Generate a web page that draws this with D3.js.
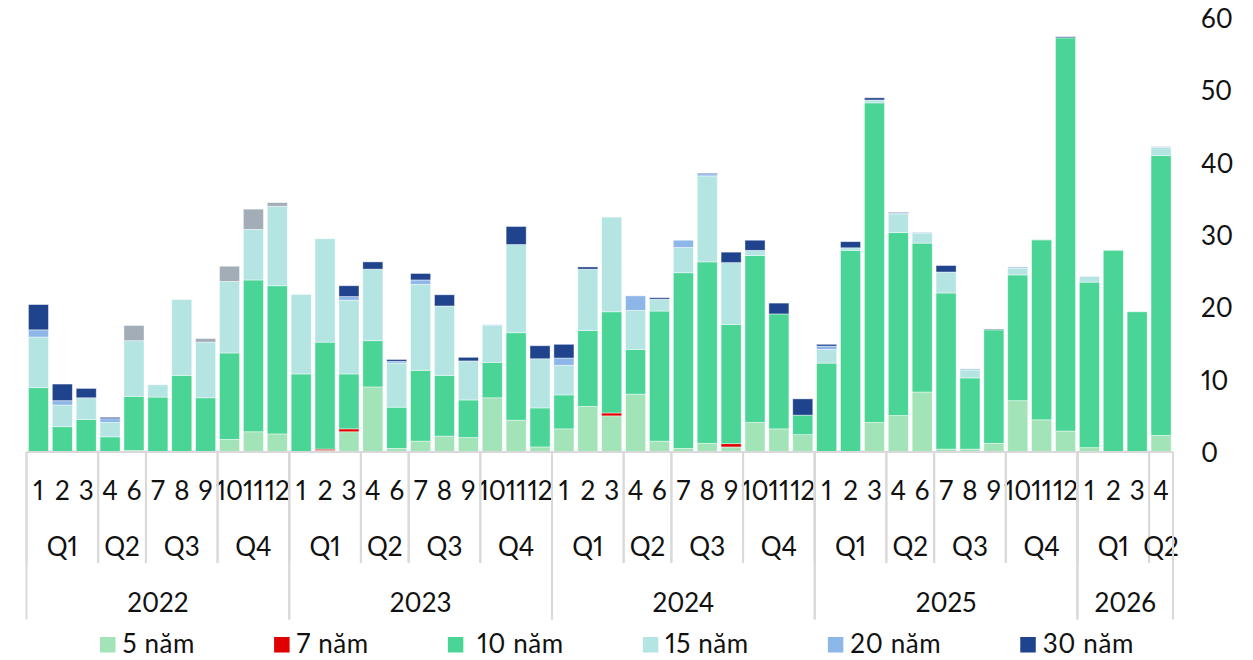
<!DOCTYPE html>
<html>
<head>
<meta charset="utf-8">
<script src="https://cdn.jsdelivr.net/npm/d3@7"></script>
<style>
  html, body { margin: 0; padding: 0; background: #fff; }
  svg text { font-family: Lato, "Open Sans", sans-serif; fill: #111; font-variant-numeric: proportional-nums; }
</style>
</head>
<body>
<svg id="chart" width="1253" height="660"></svg>
<script>
// ---- data ----
const monthLabels = ["1","2","3","4","6","7","8","9","10","11","12",
                     "1","2","3","4","6","7","8","9","10","11","12",
                     "1","2","3","4","6","7","8","9","10","11","12",
                     "1","2","3","4","6","7","8","9","10","11","12",
                     "1","2","3","4"];
const quarterLabels = ["Q1","Q1","Q1","Q2","Q2","Q3","Q3","Q3","Q4","Q4","Q4",
                       "Q1","Q1","Q1","Q2","Q2","Q3","Q3","Q3","Q4","Q4","Q4",
                       "Q1","Q1","Q1","Q2","Q2","Q3","Q3","Q3","Q4","Q4","Q4",
                       "Q1","Q1","Q1","Q2","Q2","Q3","Q3","Q3","Q4","Q4","Q4",
                       "Q1","Q1","Q1","Q2"];
const yearLabels = ["2022","2022","2022","2022","2022","2022","2022","2022","2022","2022","2022",
                    "2023","2023","2023","2023","2023","2023","2023","2023","2023","2023","2023",
                    "2024","2024","2024","2024","2024","2024","2024","2024","2024","2024","2024",
                    "2025","2025","2025","2025","2025","2025","2025","2025","2025","2025","2025",
                    "2026","2026","2026","2026"];

const y5  = [0,0,0,0,0.2,0,0,0,1.75,2.8,2.5,
             0,0.2,2.8,9.0,0.5,1.5,2.2,2.0,7.5,4.4,0.7,
             3.2,6.3,5.0,8.0,1.5,0.5,1.2,0.7,4.1,3.2,2.4,
             0,0,4.1,5.05,8.3,0.4,0.4,1.2,7.1,4.45,2.9,
             0.6,0,0,2.3];
const y7  = [0,0,0,0,0,0,0,0,0,0,0,
             0,0.2,0.4,0,0,0,0,0,0,0,0,
             0,0,0.4,0,0,0,0,0.45,0,0,0,
             0,0,0,0,0,0,0,0,0,0,0,
             0,0,0,0];
const y10 = [8.9,3.5,4.5,2.1,7.5,7.6,10.6,7.5,11.95,21.0,20.5,
             10.8,14.8,7.6,6.4,5.7,9.8,8.4,5.2,4.9,12.1,5.4,
             4.7,10.5,14.0,6.2,18.0,24.3,25.1,16.5,23.1,15.9,2.7,
             12.3,27.9,44.2,25.3,20.6,21.6,9.85,15.7,17.4,24.9,54.4,
             22.9,27.9,19.4,38.7];
const y15 = [7.0,3.0,3.0,2.0,7.7,1.7,10.5,7.7,9.9,7.0,11.0,
             11.0,14.3,10.2,9.9,6.1,11.9,9.6,5.4,5.1,12.2,6.8,
             4.1,8.5,13.1,5.4,1.65,3.5,11.9,8.55,0.7,0,0,
             1.9,0.35,0.4,2.6,1.4,2.9,1.1,0,0.95,0.1,0,
             0.8,0,0,1.15];
const y20 = [1.0,0.6,0,0.5,0,0,0,0,0,0,0,
             0,0,0.5,0,0.25,0.6,0,0,0.1,0,0,
             1.0,0,0,2.0,0,1.0,0.3,0,0,0,0,
             0.45,0,0,0.1,0.1,0,0.15,0,0.15,0,0,
             0,0,0,0.1];
const y30 = [3.5,2.3,1.3,0.2,0,0,0,0,0,0,0,
             0,0,1.5,1.0,0.25,0.9,1.55,0.5,0,2.5,1.8,
             1.9,0.3,0,0,0.2,0,0.1,1.45,1.4,1.5,2.25,
             0.25,0.85,0.3,0.1,0,0.9,0,0.1,0,0,0.15,
             0,0,0,0];
const yOther = [0,0,0,0,2.1,0,0,0.5,2.1,2.8,0.5,
                0,0,0,0,0,0,0,0,0,0,0,
                0,0,0,0,0,0,0,0,0,0,0,
                0,0,0,0,0,0,0,0,0,0,0,
                0,0,0,0];
const yTicks = [0,10,20,30,40,50,60];

const seriesNames = ["5 năm","7 năm","10 năm","15 năm","20 năm","30 năm","Khác"];
const seriesValues = [y5,y7,y10,y15,y20,y30,yOther];
const seriesColors = ["#a3e3b8","#e00000","#4ad597","#b4e5e3","#8db7e8","#1f438c","#a2adb8"];
const legendSeries = [0,1,2,3,4,5];

// ---- layout ----
const svg = d3.select("#chart");
const x0 = 26.5, x1 = 1173, yBase = 452, yTop = 18.3;
const idx = d3.range(monthLabels.length);
const x = d3.scaleBand().domain(idx).range([x0, x1]).paddingInner(0.16).paddingOuter(0.08);
const y = d3.scaleLinear().domain([0, 60]).range([yBase, yTop]);

const rows = idx.map(i => {
  const r = {i};
  seriesNames.forEach((n, k) => r[n] = seriesValues[k][i]);
  return r;
});
const stacked = d3.stack().keys(seriesNames)(rows);

const g = svg.append("g");
stacked.forEach((layer, k) => {
  g.append("g").attr("fill", seriesColors[k])
    .selectAll("rect").data(layer.filter(d => d[1] - d[0] > 0)).join("rect")
    .attr("x", d => x(d.data.i))
    .attr("width", x.bandwidth())
    .attr("y", d => y(d[1]))
    .attr("height", d => y(d[0]) - y(d[1]))
    .attr("stroke", "rgba(255,255,255,0.55)")
    .attr("stroke-width", 0.8);
});

// y axis on the right
const yAxis = d3.axisRight(y).tickValues(yTicks).tickSize(0).tickPadding(8);
const ya = svg.append("g").attr("transform", "translate(1193,0)").call(yAxis);
ya.select(".domain").remove();
ya.selectAll("text").attr("font-size", 26).attr("font-family", "Lato, sans-serif").attr("fill", "#111").attr("dy", "0.36em");

// x axis lines
const lineColor = "#d9d9d9";
svg.append("line").attr("x1", x0).attr("x2", x1).attr("y1", yBase).attr("y2", yBase)
  .attr("stroke", lineColor).attr("stroke-width", 2);

// month labels
const xAxis = d3.axisBottom(x).tickSize(0).tickPadding(30).tickFormat(i => monthLabels[i]);
const xa = svg.append("g").attr("transform", `translate(0,${yBase})`).call(xAxis);
xa.select(".domain").remove();
xa.selectAll("text").attr("font-size", 26).attr("font-family", "Lato, sans-serif").attr("fill", "#111");

// groups
function groupsOf(keyFn) {
  const out = [];
  idx.forEach(i => {
    const k = keyFn(i);
    if (out.length && out[out.length - 1].key === k) out[out.length - 1].end = i;
    else out.push({key: k, start: i, end: i});
  });
  return out;
}
const step = x.step();
const edgeL = i => i === 0 ? x0 : x(i) - (step - x.bandwidth()) / 2;
const edgeR = i => i === idx.length - 1 ? x1 : x(i) + x.bandwidth() + (step - x.bandwidth()) / 2;

const qGroups = groupsOf(i => yearLabels[i] + quarterLabels[i]);
const yGroups = groupsOf(i => yearLabels[i]);

// quarter dividers
qGroups.forEach(q => {
  [edgeL(q.start), edgeR(q.end)].forEach(xx => {
    svg.append("line").attr("x1", xx).attr("x2", xx).attr("y1", yBase).attr("y2", 563)
      .attr("stroke", lineColor).attr("stroke-width", 2);
  });
  svg.append("text").attr("x", (edgeL(q.start) + edgeR(q.end)) / 2).attr("y", 556)
    .attr("text-anchor", "middle").attr("font-size", 26).text(quarterLabels[q.start]);
});
yGroups.forEach(q => {
  [edgeL(q.start), edgeR(q.end)].forEach(xx => {
    svg.append("line").attr("x1", xx).attr("x2", xx).attr("y1", yBase).attr("y2", 619.5)
      .attr("stroke", lineColor).attr("stroke-width", 2);
  });
  svg.append("text").attr("x", (edgeL(q.start) + edgeR(q.end)) / 2).attr("y", 611.5)
    .attr("text-anchor", "middle").attr("font-size", 26).text(yearLabels[q.start]);
});

// legend
let lx = 100;
legendSeries.forEach(k => {
  const item = svg.append("g");
  item.append("rect").attr("x", lx).attr("y", 637).attr("width", 15.5).attr("height", 15.5).attr("fill", seriesColors[k]);
  const tx = lx + 22.5 + (seriesNames[k] === "10 năm" ? 7 : 0);
  const t = item.append("text").attr("x", tx).attr("y", 653).attr("font-size", 26)
    .attr("letter-spacing", 0.6).text(seriesNames[k]);
  const w = t.node().getComputedTextLength();
  lx = tx + w + 79;
});
</script>
</body>
</html>
